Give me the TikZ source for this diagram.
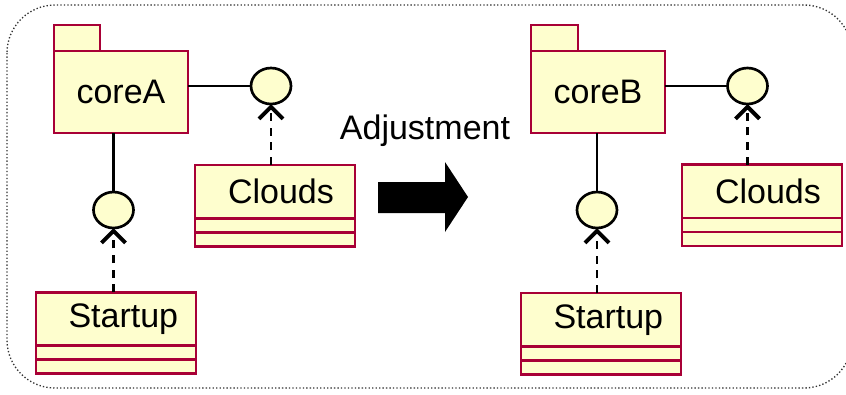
\documentclass[tikz,border=0pt]{standalone}
\usepackage{fontspec}
\setmainfont{Liberation Sans}
\usetikzlibrary{arrows.meta,positioning,shapes.geometric}
\definecolor{umlfill}{HTML}{FEFECE}
\definecolor{umlred}{HTML}{A80036}

\begin{document}
\begin{tikzpicture}[x=0.75pt,y=-0.75pt,
  every node/.style={font=\fontsize{25.5}{30}\selectfont,inner sep=0pt,outer sep=0pt},
  pkg/.style={draw=umlred,fill=umlfill,line width=2pt,minimum width=100.5pt,minimum height=61.5pt},
  tab/.style={draw=umlred,fill=umlfill,line width=2pt},
  cls/.style={draw=umlred,fill=umlfill,line width=2pt,minimum width=120pt,minimum height=40pt},
  comp/.style={draw=umlred,fill=umlfill,line width=2pt,minimum width=120pt,minimum height=10.5pt},
  iface/.style={draw,ellipse,fill=umlfill,line width=2pt,minimum width=30pt,minimum height=27pt},
  dep/.style={line width=2pt,dash pattern=on 6pt off 5pt,-{Straight Barb[length=9pt,width=18pt,line width=3pt]}},
  lnk/.style={line width=2pt}]
\useasboundingbox (0,0) rectangle (846,394);
\draw[black!80,line width=1pt,dash pattern=on 1pt off 1.6pt,rounded corners=36pt] (7,5) rectangle (852,388);
% before
\node[pkg] (coreA) at (121,92) {coreA};
\draw[tab] (coreA.north west) rectangle ++(46,-26);
\node[iface] (ifA1) at (271,86) {};\node[iface] (ifA2) at (113.5,210) {};
\node[cls] (cloudsA) at (275,191.5) {\hspace*{9pt}Clouds};
\node[comp,below=0pt of cloudsA] (cloudsA1) {};\node[comp,below=0pt of cloudsA1] (cloudsA2) {};
\node[cls] (startupA) at (116,319) {\hspace*{11pt}Startup};
\node[comp,below=0pt of startupA] (startupA1) {};\node[comp,below=0pt of startupA1] (startupA2) {};
\draw[lnk] (coreA.east |- ifA1.west)--(ifA1.west);
\draw[lnk] (ifA2.north |- coreA.south)--(ifA2.north);
\draw[dep] (ifA1.south |- cloudsA.north)--(ifA1.south);
\draw[dep] (ifA2.south |- startupA.north)--(ifA2.south);
% transition
\node (adjLabel) at (425,131) {Adjustment};
\fill (378,182)--(445,182)--(445,162)--(468,197)--(445,232)--(445,213)--(378,213)--cycle;
% after
\node[pkg] (coreB) at (598,92) {coreB};
\draw[tab] (coreB.north west) rectangle ++(47,-26);
\node[iface] (ifB1) at (747.5,86) {};\node[iface] (ifB2) at (597,210) {};
\node[cls] (cloudsB) at (762,191.3) {\hspace*{9pt}Clouds};
\node[comp,below=0pt of cloudsB] (cloudsB1) {};\node[comp,below=0pt of cloudsB1] (cloudsB2) {};
\node[cls] (startupB) at (601,319.7) {\hspace*{11pt}Startup};
\node[comp,below=0pt of startupB] (startupB1) {};\node[comp,below=0pt of startupB1] (startupB2) {};
\draw[lnk] (coreB.east |- ifB1.west)--(ifB1.west);
\draw[lnk] (ifB2.north |- coreB.south)--(ifB2.north);
\draw[dep] (ifB1.south |- cloudsB.north)--(ifB1.south);
\draw[dep] (ifB2.south |- startupB.north)--(ifB2.south);
\end{tikzpicture}
\end{document}
